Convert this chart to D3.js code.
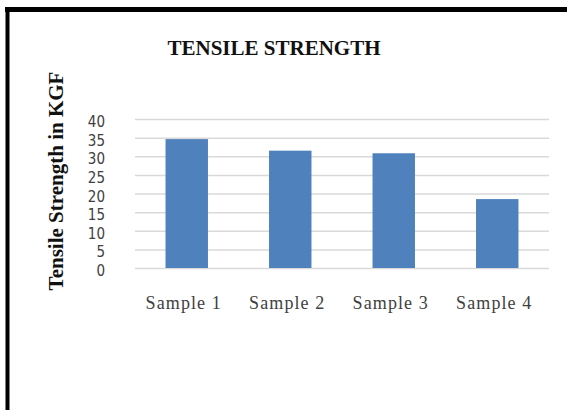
<!DOCTYPE html>
<html>
<head>
<meta charset="utf-8">
<script src="https://cdn.jsdelivr.net/npm/d3@7"></script>
<style>
  html, body { margin: 0; padding: 0; background: #fff; }
  svg { display: block; }
</style>
</head>
<body>
<svg id="chart" width="567" height="410"></svg>
<script>
// Tensile strength of four samples (KGF)
const categories = ["Sample 1", "Sample 2", "Sample 3", "Sample 4"];
const strengths = [34.6, 31.5, 30.8, 18.5];
const yTicks = [0, 5, 10, 15, 20, 25, 30, 35, 40];

const svg = d3.select("#chart");
const W = 567, H = 410;
const plot = { left: 135, right: 549, top: 119, bottom: 268 };

// page frame: heavy rule along the top and left
svg.append("line").attr("x1", 5).attr("x2", W).attr("y1", 9.5).attr("y2", 9.5)
  .attr("stroke", "#000").attr("stroke-width", 5);
svg.append("line").attr("x1", 7.5).attr("x2", 7.5).attr("y1", 7).attr("y2", H)
  .attr("stroke", "#000").attr("stroke-width", 4);

const x = d3.scaleBand().domain(categories).range([plot.left, plot.right]).paddingInner(0.59).paddingOuter(0.295);
const y = d3.scaleLinear().domain([0, 40]).range([plot.bottom, plot.top]);

// horizontal gridlines
const yAxis = d3.axisLeft(y).tickValues(yTicks).tickSize(-(plot.right - plot.left)).tickPadding(30).tickFormat(d3.format("d"));
const gy = svg.append("g").attr("transform", `translate(${plot.left},0)`).call(yAxis);
gy.select(".domain").remove();
gy.selectAll(".tick line").attr("stroke", "#d9d9d9").attr("stroke-width", 1.5);
gy.selectAll(".tick text")
  .attr("fill", "#404040")
  .attr("dy", "0.5em")
  .style("font-family", "'Liberation Sans Narrow', 'DejaVu Sans Condensed', 'Liberation Sans', sans-serif")
  .style("font-size", "15px");

// bars
svg.append("g").selectAll("rect").data(categories).join("rect")
  .attr("x", d => x(d))
  .attr("width", x.bandwidth())
  .attr("y", (d, i) => y(strengths[i]))
  .attr("height", (d, i) => y(0) - y(strengths[i]))
  .attr("fill", "#4f81bd");

// category labels
const xAxis = d3.axisBottom(x).tickSize(0).tickPadding(0);
const gx = svg.append("g").attr("transform", `translate(0,${plot.bottom})`).call(xAxis);
gx.select(".domain").remove();
gx.selectAll(".tick text")
  .attr("fill", "#404040")
  .attr("y", 0)
  .attr("dy", 0)
  .attr("transform", "translate(-3,41)")
  .style("font-family", "'Liberation Serif', 'Times New Roman', serif")
  .style("font-size", "18px")
  .style("letter-spacing", "1.1px");

// title
svg.append("text").attr("x", 274).attr("y", 55).attr("text-anchor", "middle")
  .style("font-family", "'Liberation Serif', serif").style("font-weight", "bold").style("font-size", "21px")
  .attr("fill", "#111").text("TENSILE STRENGTH");

// y-axis title
svg.append("text").attr("transform", "translate(63,181) rotate(-90)").attr("text-anchor", "middle")
  .style("font-family", "'Liberation Serif', serif").style("font-weight", "bold").style("font-size", "21px")
  .attr("fill", "#111").text("Tensile Strength in KGF");
</script>
</body>
</html>
